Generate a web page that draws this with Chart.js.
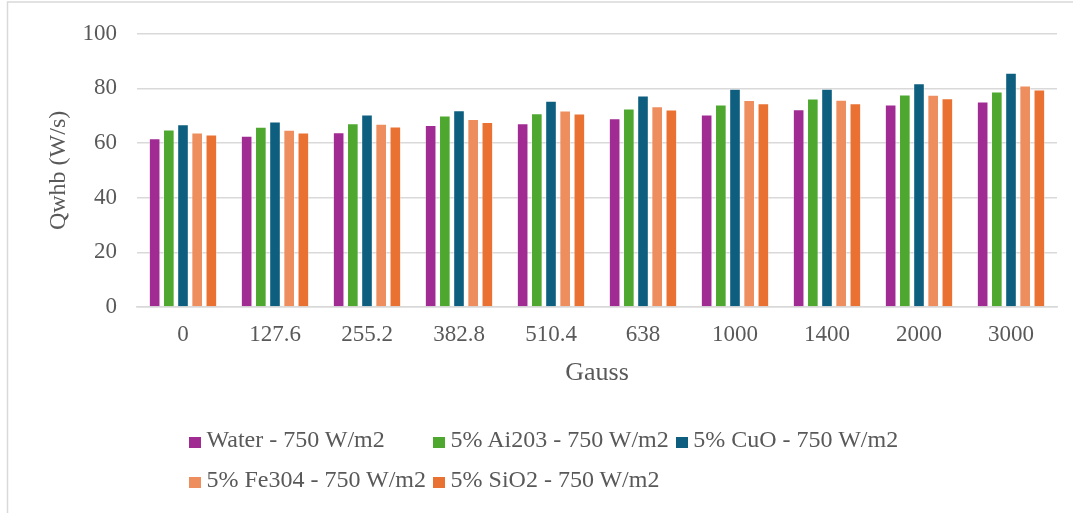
<!DOCTYPE html>
<html>
<head>
<meta charset="utf-8">
<script src="https://cdn.jsdelivr.net/npm/chart.js@4.4.1/dist/chart.umd.min.js"></script>
<style>
  html, body { margin: 0; padding: 0; background: #fff; }
  #wrap { position: relative; width: 1073px; height: 513px; overflow: hidden; }
  #chart { position: absolute; left: 0; top: 0; }
  #legend {
    position: absolute; left: 189px; top: 427.3px;
    display: grid; grid-template-columns: auto auto auto;
    column-gap: 7px; row-gap: 16px;
    font-family: "Liberation Serif", "Times New Roman", serif;
    font-size: 24px; color: #595959; line-height: 24px;
  }
  .item { display: flex; align-items: center; white-space: nowrap; }
  .box { width: 12px; height: 11px; margin-right: 5.5px; flex: none; position: relative; top: 3.7px; }
</style>
</head>
<body>
<div id="wrap">
  <canvas id="chart" width="1073" height="513"></canvas>
  <div id="legend"></div>
</div>
<script>
// Magnetic field strength (Gauss) for each group of bars
const categories = ['0', '127.6', '255.2', '382.8', '510.4', '638', '1000', '1400', '2000', '3000'];

// Qwhb (W/s) per fluid at 750 W/m2
const water = [61.8, 62.7, 64.0, 66.6, 67.3, 69.1, 70.5, 72.4, 74.1, 75.2];
const al2o3 = [65.0, 66.0, 67.3, 70.1, 70.9, 72.7, 74.1, 76.3, 77.8, 78.9];
const cuo   = [66.9, 67.9, 70.5, 72.0, 75.5, 77.4, 79.9, 79.9, 81.9, 85.7];
const fe3o4 = [63.9, 64.9, 67.1, 68.8, 71.9, 73.5, 75.8, 75.9, 77.7, 81.1];
const sio2  = [63.1, 63.9, 66.1, 67.7, 70.8, 72.3, 74.6, 74.6, 76.4, 79.6];

const seriesNames = [
  'Water - 750 W/m2',
  '5% Ai203 - 750 W/m2',
  '5% CuO - 750 W/m2',
  '5% Fe304 - 750 W/m2',
  '5% SiO2 - 750 W/m2'
];
const seriesValues = [water, al2o3, cuo, fe3o4, sio2];
const seriesColors = ['#A02B93', '#4EA72E', '#0E5F7F', '#EE8D5D', '#E97132'];

const yTicks = [0, 20, 40, 60, 80, 100];

const FONT = '"Liberation Serif", "Times New Roman", serif';
const TEXT = '#595959';
const GRID = '#d9d9d9';

// Light frame around the chart
const framePlugin = {
  id: 'frame',
  beforeDraw(chart) {
    const ctx = chart.ctx;
    ctx.save();
    ctx.strokeStyle = GRID;
    ctx.lineWidth = 1.5;
    ctx.strokeRect(7.5, 2, chart.width + 20, chart.height + 20);
    ctx.restore();
  }
};

const chart = new Chart(document.getElementById('chart'), {
  type: 'bar',
  data: {
    labels: categories,
    datasets: seriesValues.map((vals, i) => ({
      label: seriesNames[i],
      data: vals,
      backgroundColor: seriesColors[i],
      borderColor: 'rgba(255,255,255,0.35)',
      borderWidth: 1,
      categoryPercentage: 0.77,
      barPercentage: 0.82
    }))
  },
  options: {
    responsive: false,
    animation: false,
    layout: { padding: { left: 44, right: 16, top: 29, bottom: 121 } },
    plugins: {
      legend: { display: false },
      tooltip: { enabled: false }
    },
    scales: {
      x: {
        grid: { display: false, drawTicks: false },
        border: { display: true, color: GRID, width: 1.5 },
        ticks: { color: TEXT, font: { family: FONT, size: 23 }, padding: 14, maxRotation: 0 },
        title: { display: true, text: 'Gauss', color: TEXT, font: { family: FONT, size: 26 }, padding: { top: 0, bottom: 3 } },
        afterFit(scale) { scale.height = 85; }
      },
      y: {
        min: 0, max: 100,
        afterBuildTicks(scale) { scale.ticks = yTicks.map(v => ({ value: v })); },
        grid: { color: GRID, lineWidth: 1.5, drawTicks: false },
        border: { display: false },
        ticks: { color: TEXT, font: { family: FONT, size: 23 }, padding: 20 },
        title: { display: true, text: 'Qwhb (W/s)', color: TEXT, font: { family: FONT, size: 24 }, padding: 0 },
        afterFit(scale) { scale.width = 137 - 44; }
      }
    }
  },
  plugins: [framePlugin]
});

// Legend laid out in columns beneath the plot
const legend = document.getElementById('legend');
seriesNames.forEach((name, i) => {
  const item = document.createElement('div');
  item.className = 'item';
  const box = document.createElement('span');
  box.className = 'box';
  box.style.background = seriesColors[i];
  const txt = document.createElement('span');
  txt.textContent = name;
  item.appendChild(box);
  item.appendChild(txt);
  legend.appendChild(item);
});
</script>
</body>
</html>
